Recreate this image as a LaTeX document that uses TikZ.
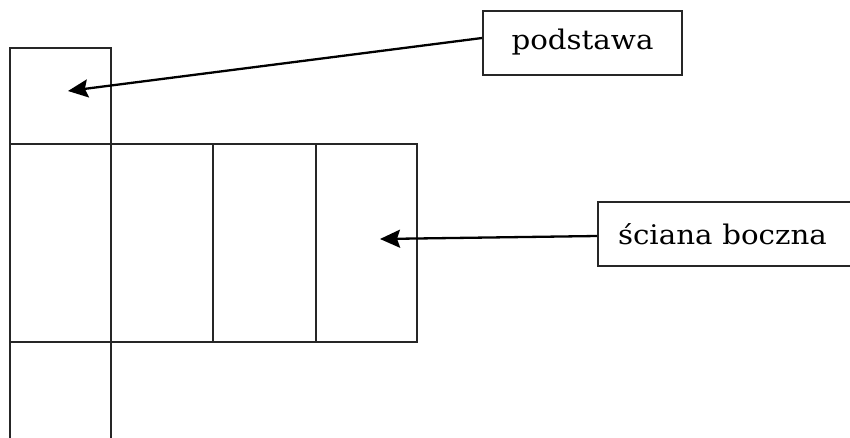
\documentclass[tikz,border=0pt]{standalone}
\usepackage{fontspec}
\setmainfont{DejaVu Serif}
\usepackage{tikz}
\usetikzlibrary{positioning, arrows.meta}
\tikzstyle{arrow} = [line width=2.3pt,-{Stealth[length=20pt,width=18pt,inset=3pt]}]
\newcommand{\widetext}[1]{\scalebox{1.085}[1]{#1}}

\begin{document}
\begin{tikzpicture}[x=1pt,y=-1pt]
        \tikzstyle{every node}=[font=\fontsize{27pt}{32pt}\selectfont]
        \tikzstyle{face} = [draw=black!85, line width=2pt, inner sep=0pt]
        \tikzstyle{label} = [draw=black!85, line width=2pt, inner sep=0pt, minimum height=64pt]

        \useasboundingbox (0,0) rectangle (850,437);

        % net of the prism
        \node[face, minimum width=101pt, minimum height=96.5pt](top) at (60.5,96) {};
        \node[face, minimum width=101pt, minimum height=198pt](s1) at (60.5,243) {};
        \node[face, minimum width=102pt, minimum height=198pt](s2) at (162,243) {};
        \node[face, minimum width=103pt, minimum height=198pt](s3) at (264.5,243) {};
        \node[face, minimum width=101pt, minimum height=198pt](s4) at (366.5,243) {};
        \node[face, minimum width=101pt, minimum height=98pt](bottom) at (60.5,391) {};

        % tips of the arrows
        \coordinate(t1) at (68,91);
        \coordinate(t2) at (380,239);

        % labels
        \node[label, minimum width=199pt](pod) at (582.5,42.5) {\widetext{podstawa}};
        \node[label, minimum width=254pt, text width=254pt, align=left](sc) at (725,234) {\hspace*{20pt}\widetext{ściana boczna}};

        \draw[arrow] ([yshift=4.5pt]pod.west) -- (t1);
        \draw[arrow] ([yshift=-2pt]sc.west) -- (t2);
\end{tikzpicture}
\end{document}
